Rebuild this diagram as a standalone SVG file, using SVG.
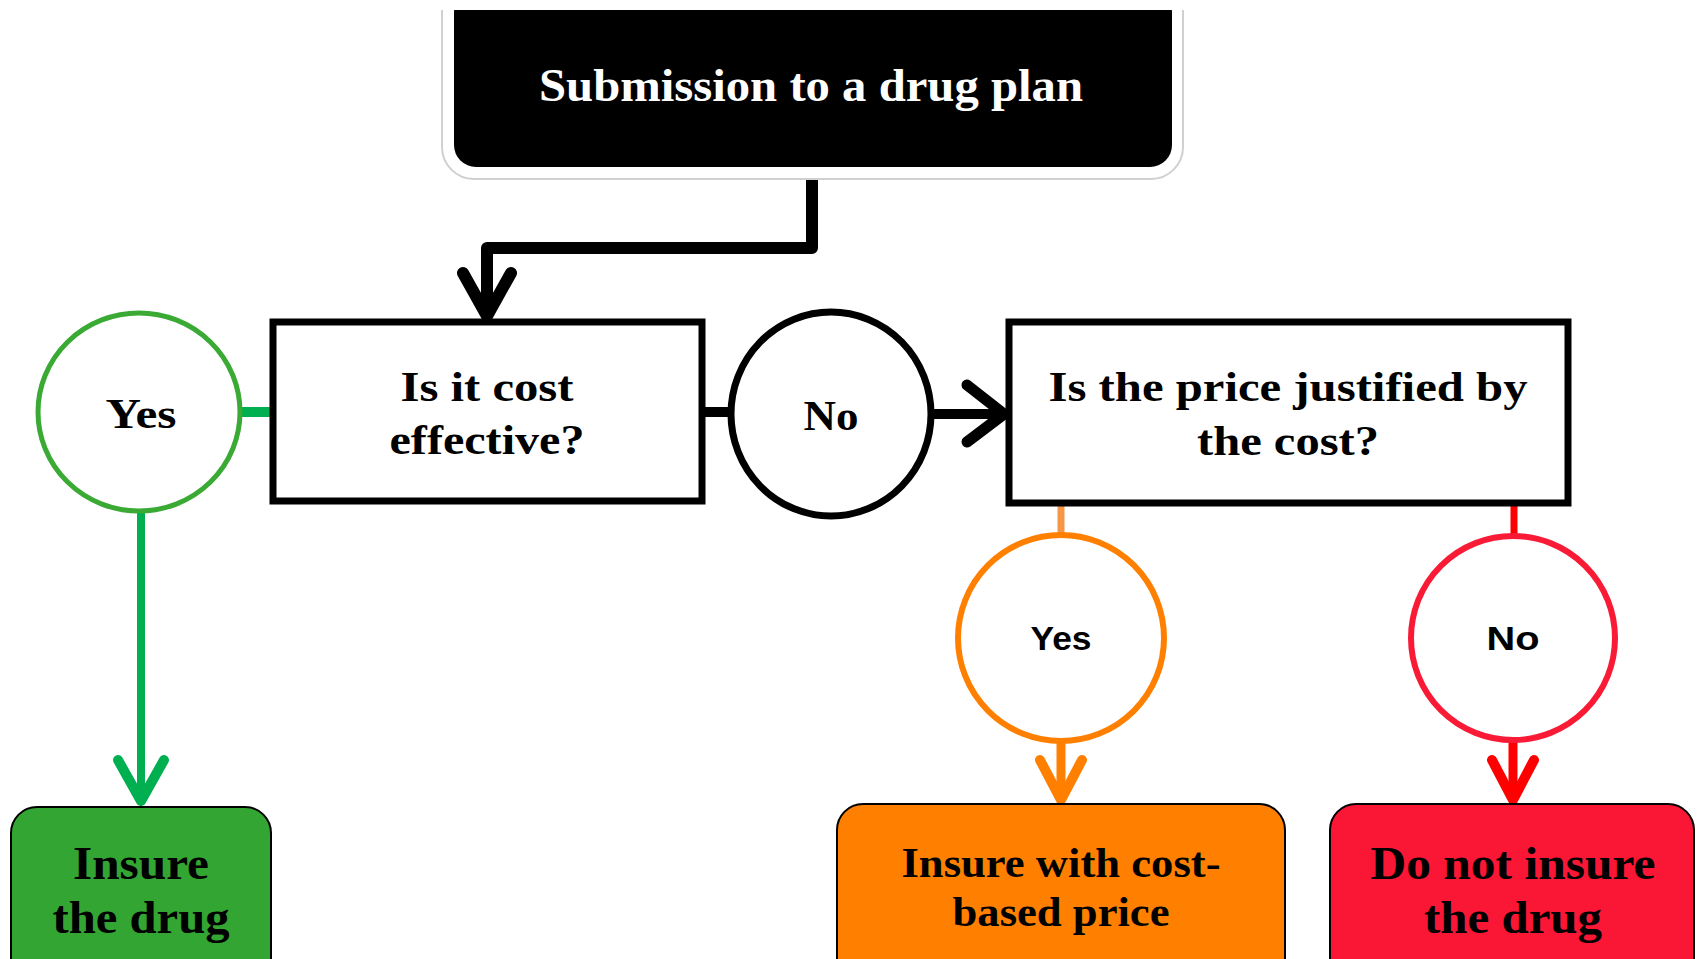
<svg xmlns="http://www.w3.org/2000/svg" width="1698" height="959" viewBox="0 0 1698 959">
<style>
.serif{font-family:"Liberation Serif","DejaVu Serif",serif;font-weight:bold;text-anchor:middle}
.sans{font-family:"Liberation Sans","DejaVu Sans",sans-serif;font-weight:bold;text-anchor:middle}
.box{fill:#fff;stroke:#000;stroke-width:7}
.ln{fill:none;stroke-linecap:round;stroke-linejoin:round}
</style>
<rect width="1698" height="959" fill="#fff"/>
<g id="connectors">
  <path class="ln" d="M812 173 V248 H487 V312" stroke="#000" stroke-width="12" stroke-linecap="butt" stroke-linejoin="miter"/>
  <polyline class="ln" points="463,273 487,316 511,273" stroke="#000" stroke-width="12"/>
  <line x1="239" y1="412" x2="273" y2="412" stroke="#00b050" stroke-width="10"/>
  <line x1="141" y1="509" x2="141" y2="800" stroke="#00b050" stroke-width="8"/>
  <polyline class="ln" points="118,760 141,801 164,760" stroke="#00b050" stroke-width="10"/>
  <line x1="702" y1="412" x2="731" y2="412" stroke="#000" stroke-width="10"/>
  <line x1="931" y1="414" x2="1002" y2="414" stroke="#000" stroke-width="10"/>
  <polyline class="ln" points="967,385 1004,414 967,442" stroke="#000" stroke-width="11"/>
  <line x1="1061" y1="506" x2="1061" y2="536" stroke="#f79646" stroke-width="7"/>
  <line x1="1061" y1="741" x2="1061" y2="798" stroke="#ff8000" stroke-width="9"/>
  <polyline class="ln" points="1040,760 1061,800 1082,760" stroke="#ff8000" stroke-width="10"/>
  <line x1="1514" y1="506" x2="1514" y2="535" stroke="#ff0000" stroke-width="7"/>
  <line x1="1513" y1="741" x2="1513" y2="798" stroke="#ff0000" stroke-width="9"/>
  <polyline class="ln" points="1492,760 1513,800 1534,760" stroke="#ff0000" stroke-width="10"/>
</g>
<g id="start">
  <rect x="442" y="-20" width="741" height="199" rx="32" fill="#fff" stroke="#d0d0d0" stroke-width="2"/>
  <rect x="454" y="-10" width="718" height="177" rx="22" fill="#000"/>
  <rect x="430" y="0" width="770" height="10" fill="#fff"/>
  <text class="serif" x="811" y="101" font-size="46" fill="#fff" textLength="544" lengthAdjust="spacingAndGlyphs">Submission to a drug plan</text>
</g>
<g id="q1">
  <rect class="box" x="273" y="322" width="429" height="179"/>
  <text class="serif" x="487" y="401" font-size="43" textLength="173" lengthAdjust="spacingAndGlyphs">Is it cost</text>
  <text class="serif" x="487" y="454" font-size="43" textLength="195" lengthAdjust="spacingAndGlyphs">effective?</text>
</g>
<g id="yes1">
  <ellipse cx="139" cy="412" rx="101" ry="99" fill="#fff" stroke="#3aaa35" stroke-width="5"/>
  <text class="serif" x="141" y="428" font-size="43" textLength="71" lengthAdjust="spacingAndGlyphs">Yes</text>
</g>
<g id="no1">
  <ellipse cx="831" cy="414" rx="100" ry="102" fill="#fff" stroke="#000" stroke-width="7"/>
  <text class="serif" x="831" y="430" font-size="43" textLength="55" lengthAdjust="spacingAndGlyphs">No</text>
</g>
<g id="q2">
  <rect class="box" x="1009" y="322" width="559" height="181"/>
  <text class="serif" x="1288" y="401" font-size="43" textLength="479" lengthAdjust="spacingAndGlyphs">Is the price justified by</text>
  <text class="serif" x="1288" y="455" font-size="43" textLength="182" lengthAdjust="spacingAndGlyphs">the cost?</text>
</g>
<g id="yes2">
  <circle cx="1061" cy="638" r="103" fill="#fff" stroke="#ff8000" stroke-width="6"/>
  <text class="sans" x="1061" y="650" font-size="34" textLength="61" lengthAdjust="spacingAndGlyphs">Yes</text>
</g>
<g id="no2">
  <circle cx="1513" cy="638" r="102" fill="#fff" stroke="#f91a35" stroke-width="6"/>
  <text class="sans" x="1513" y="650" font-size="34" textLength="53" lengthAdjust="spacingAndGlyphs">No</text>
</g>
<g id="insure">
  <rect x="11" y="807" width="260" height="180" rx="26" fill="#33a532" stroke="#000" stroke-width="2"/>
  <text class="serif" x="141" y="879" font-size="46" textLength="136" lengthAdjust="spacingAndGlyphs">Insure</text>
  <text class="serif" x="141" y="933" font-size="46" textLength="177" lengthAdjust="spacingAndGlyphs">the drug</text>
</g>
<g id="costbased">
  <rect x="837" y="804" width="448" height="180" rx="26" fill="#ff8000" stroke="#000" stroke-width="2"/>
  <text class="serif" x="1061" y="877" font-size="42" textLength="319" lengthAdjust="spacingAndGlyphs">Insure with cost-</text>
  <text class="serif" x="1061" y="926" font-size="42" textLength="217" lengthAdjust="spacingAndGlyphs">based price</text>
</g>
<g id="notinsure">
  <rect x="1330" y="804" width="364" height="180" rx="26" fill="#fa1635" stroke="#000" stroke-width="2"/>
  <text class="serif" x="1513" y="879" font-size="46" textLength="285" lengthAdjust="spacingAndGlyphs">Do not insure</text>
  <text class="serif" x="1513" y="933" font-size="46" textLength="178" lengthAdjust="spacingAndGlyphs">the drug</text>
</g>
</svg>
